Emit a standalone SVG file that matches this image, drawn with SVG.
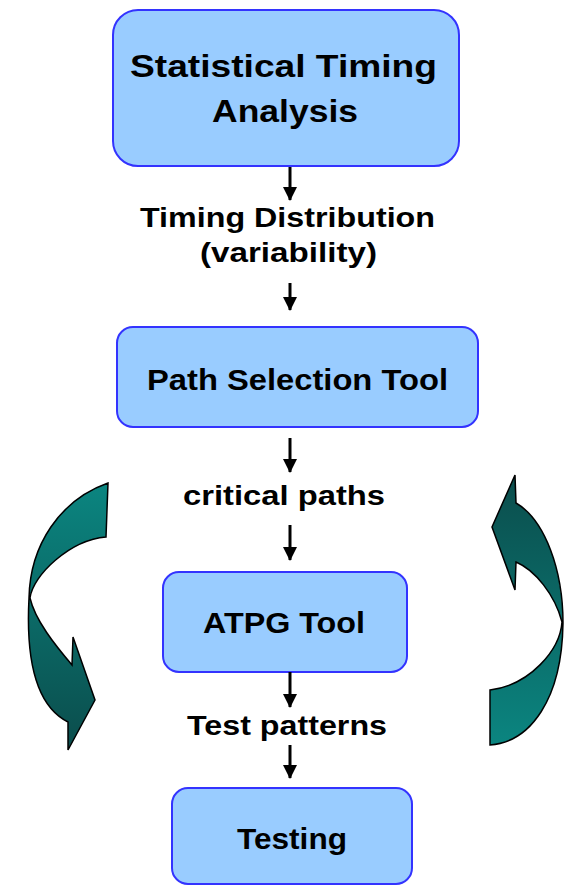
<svg xmlns="http://www.w3.org/2000/svg" width="564" height="887" viewBox="0 0 564 887">
<style>
.box{fill:#99ccff;stroke:#3333ff;stroke-width:2}
.t{font-family:"Liberation Sans",Arial,sans-serif;font-weight:bold;fill:#000;text-anchor:start}
.con{stroke:#000;stroke-width:3;fill:none;marker-end:url(#ah)}
.curve{stroke:#000;stroke-width:1.5;stroke-linejoin:miter}
</style>
<defs>
<marker id="ah" markerUnits="userSpaceOnUse" markerWidth="14" markerHeight="14" refX="13" refY="7" orient="auto">
<path d="M0,0 L14,7 L0,14 Z" fill="#000"/>
</marker>
<linearGradient id="gDown" x1="0" y1="0" x2="0" y2="1">
<stop offset="0" stop-color="#0b8580"/>
<stop offset="1" stop-color="#0b4d4c"/>
</linearGradient>
<linearGradient id="gUp" x1="0" y1="1" x2="0" y2="0">
<stop offset="0" stop-color="#0b8580"/>
<stop offset="1" stop-color="#0b4d4c"/>
</linearGradient>
</defs>

<g id="curve-left">
<path class="curve" fill="url(#gDown)" d="M108,483 C60,500 30,545 29,598 C26,655 34,705 68,722 L68,750 L95,700 L73,637 L72,665 C55,645 35,620 30,598 C33,575 70,540 106,537 Z"/>
</g>
<g id="curve-right">
<path class="curve" fill="url(#gUp)" d="M490,745 C530,742 562,700 563,623 C563,570 545,520 516,503 L515,475 L492,527 L515,590 L516,562 C535,570 555,595 562,622 C560,650 530,685 490,690 Z"/>
</g>

<g id="sta">
<rect class="box" x="113" y="10" width="346" height="156" rx="25"/>
<text class="t" x="130" y="77" font-size="31" textLength="307" lengthAdjust="spacingAndGlyphs">Statistical Timing</text>
<text class="t" x="212" y="122" font-size="31" textLength="146" lengthAdjust="spacingAndGlyphs">Analysis</text>
</g>

<g id="label-dist">
<text class="t" x="140" y="227" font-size="28" textLength="295" lengthAdjust="spacingAndGlyphs">Timing Distribution</text>
<text class="t" x="200" y="262" font-size="28" textLength="177" lengthAdjust="spacingAndGlyphs">(variability)</text>
</g>

<g id="path-sel">
<rect class="box" x="117" y="327" width="361" height="100" rx="16"/>
<text class="t" x="147" y="390" font-size="30" textLength="301" lengthAdjust="spacingAndGlyphs">Path Selection Tool</text>
</g>

<g id="label-critical">
<text class="t" x="183" y="505" font-size="28" textLength="202" lengthAdjust="spacingAndGlyphs">critical paths</text>
</g>

<g id="atpg">
<rect class="box" x="163" y="572" width="244" height="100" rx="16"/>
<text class="t" x="203" y="633" font-size="29" textLength="162" lengthAdjust="spacingAndGlyphs">ATPG Tool</text>
</g>

<g id="label-test">
<text class="t" x="187" y="735" font-size="28" textLength="200" lengthAdjust="spacingAndGlyphs">Test patterns</text>
</g>

<g id="testing">
<rect class="box" x="172" y="788" width="240" height="96" rx="16"/>
<text class="t" x="237" y="849" font-size="30" textLength="110" lengthAdjust="spacingAndGlyphs">Testing</text>
</g>

<g id="connectors">
<line class="con" x1="290" y1="167" x2="290" y2="200"/>
<line class="con" x1="290" y1="283" x2="290" y2="310"/>
<line class="con" x1="290" y1="438" x2="290" y2="472"/>
<line class="con" x1="290" y1="525" x2="290" y2="560"/>
<line class="con" x1="290" y1="672" x2="290" y2="707"/>
<line class="con" x1="290" y1="745" x2="290" y2="778"/>
</g>
</svg>
